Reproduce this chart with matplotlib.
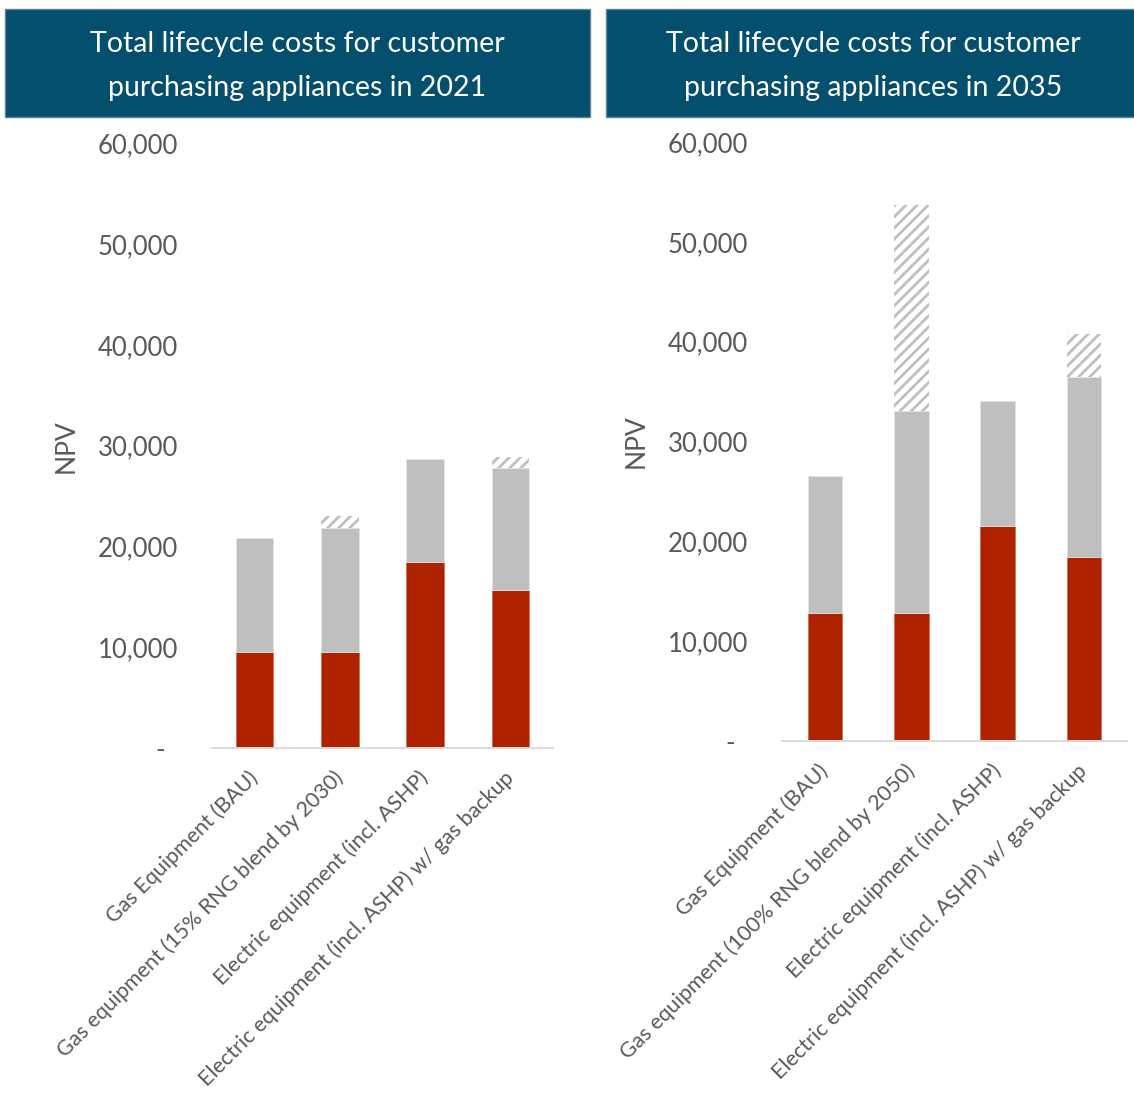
import matplotlib
matplotlib.use("Agg")
import matplotlib.pyplot as plt
from matplotlib.patches import Rectangle
from matplotlib.transforms import ScaledTranslation
import numpy as np

# ---- data -------------------------------------------------------------
labels_2021 = [
    "Gas Equipment (BAU)",
    "Gas equipment (15% RNG blend by 2030)",
    "Electric equipment (incl. ASHP)",
    "Electric equipment (incl. ASHP) w/ gas backup",
]
labels_2035 = [
    "Gas Equipment (BAU)",
    "Gas equipment (100% RNG blend by 2050)",
    "Electric equipment (incl. ASHP)",
    "Electric equipment (incl. ASHP) w/ gas backup",
]
# stacked cost components (NPV)
upfront_2021 = [9500, 9500, 18500, 15700]
operating_2021 = [11300, 12300, 10200, 12100]
rng_premium_2021 = [0, 1200, 0, 1100]

upfront_2035 = [12800, 12800, 21500, 18400]
operating_2035 = [13700, 20300, 12600, 18100]
rng_premium_2035 = [0, 20600, 0, 4300]

title_2021 = "Total lifecycle costs for customer\npurchasing appliances in 2021"
title_2035 = "Total lifecycle costs for customer\npurchasing appliances in 2035"
yticks = [0, 10000, 20000, 30000, 40000, 50000, 60000]

# ---- style ------------------------------------------------------------
W, H = 1134, 1094
plt.rcParams["font.family"] = ["Lato", "DejaVu Sans"]
plt.rcParams["hatch.linewidth"] = 2.0

RED = "#AF2200"
GREY = "#BFBFBF"
TEXT = "#595959"
HEADER = "#044F6E"

fig = plt.figure(figsize=(W / 100, H / 100), dpi=100)


def px_box(x0, y0, x1, y1):
    """Figure-fraction rectangle from pixel coordinates (origin top-left)."""
    return [x0 / W, 1 - y1 / H, (x1 - x0) / W, (y1 - y0) / H]


def header(x0, x1, text):
    fig.patches.append(Rectangle((x0 / W, 1 - 117 / H), (x1 - x0) / W, 108 / H,
                                 transform=fig.transFigure, facecolor=HEADER,
                                 edgecolor="#5f8294", linewidth=1.0))
    fig.text((x0 + x1) / 2 / W, 1 - 66 / H, text, ha="center", va="center",
             color="white", fontsize=20.5, linespacing=1.9)


def panel(rect, up, op, prem, labels, width):
    ax = fig.add_axes(rect)
    x = np.arange(len(labels))
    up = np.array(up)
    op = np.array(op)
    prem = np.array(prem)
    ax.bar(x, up, width, color=RED, edgecolor="#c9705c", linewidth=0.6, zorder=2)
    ax.bar(x, op, width, bottom=up, color=GREY, edgecolor="#e3e3e3",
           linewidth=0.6, zorder=2)
    ax.bar(x, prem, width, bottom=up + op, facecolor="white", edgecolor=GREY,
           linewidth=0, hatch="///", zorder=2)
    ax.set_xlim(-0.5, len(labels) - 0.5)
    ax.set_ylim(0, 60000)
    for s in ("top", "right", "left"):
        ax.spines[s].set_visible(False)
    ax.spines["bottom"].set_color("#D9D9D9")
    ax.spines["bottom"].set_linewidth(1.4)
    ax.set_yticks(yticks)
    ax.set_yticklabels(["-" if v == 0 else f"{v:,}" for v in yticks])
    ax.tick_params(axis="y", length=0, pad=24.5, labelsize=18.5, labelcolor=TEXT)
    zero = ax.get_yticklabels()[0]
    zero.set_transform(zero.get_transform() +
                       ScaledTranslation(-0.13, 0, fig.dpi_scale_trans))
    ax.set_xticks(x)
    ax.set_xticklabels(labels, rotation=45, ha="right", va="center",
                       rotation_mode="anchor")
    ax.tick_params(axis="x", length=0, pad=19, labelsize=15.5, labelcolor=TEXT)
    ax.set_ylabel("NPV", fontsize=19, color=TEXT, labelpad=14)
    return ax


header(5, 590, title_2021)
header(606, 1140, title_2035)

ax1 = panel(px_box(212, 143.5, 553, 748), upfront_2021, operating_2021,
            rng_premium_2021, labels_2021, 0.44)
ax2 = panel(px_box(782, 142, 1127, 741), upfront_2035, operating_2035,
            rng_premium_2035, labels_2035, 0.40)

fig.savefig("out.png", dpi=100)
